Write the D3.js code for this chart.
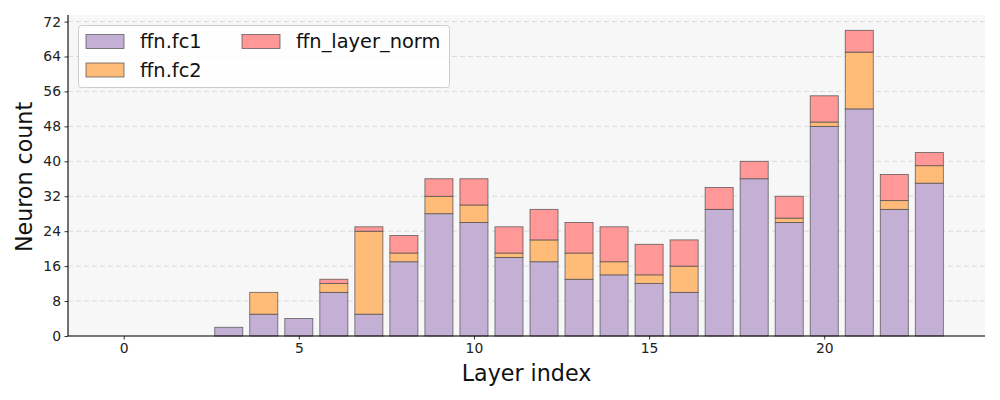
<!DOCTYPE html>
<html>
<head>
<meta charset="utf-8">
<script src="https://cdn.jsdelivr.net/npm/d3@7"></script>
<style>
  html, body { margin: 0; padding: 0; background: #ffffff; }
  svg { display: block; font-family: "DejaVu Sans", sans-serif; }
</style>
</head>
<body>
<svg id="chart" width="1000" height="400"></svg>
<script>
const layers = d3.range(0, 24);
const seriesNames = ["ffn.fc1", "ffn.fc2", "ffn_layer_norm"];
const fc1Values  = [0, 0, 0, 2, 5, 4, 10, 5, 17, 28, 26, 18, 17, 13, 14, 12, 10, 29, 36, 26, 48, 52, 29, 35];
const fc2Values  = [0, 0, 0, 0, 5, 0, 2, 19, 2, 4, 4, 1, 5, 6, 3, 2, 6, 0, 0, 1, 1, 13, 2, 4];
const normValues = [0, 0, 0, 0, 0, 0, 1, 1, 4, 4, 6, 6, 7, 7, 8, 7, 6, 5, 4, 5, 6, 5, 6, 3];
const yTicks = [0, 8, 16, 24, 32, 40, 48, 56, 64, 72];
const xTicks = [0, 5, 10, 15, 20];
const colors = ["#c5b0d5", "#ffbb78", "#ff9896"];

const svg = d3.select("#chart");
const margin = { left: 68, right: 15, top: 15, bottom: 64 };
const W = 1000, H = 400;
const iw = W - margin.left - margin.right;
const ih = H - margin.top - margin.bottom;

const totals = layers.map(i => fc1Values[i] + fc2Values[i] + normValues[i]);
const ymax = d3.max(totals) * 1.05;
const barW = 0.8;
const xmin = -barW / 2, xmaxv = layers.length - 1 + barW / 2;
const pad = (xmaxv - xmin) * 0.05;

const x = d3.scaleLinear().domain([xmin - pad, xmaxv + pad]).range([0, iw]);
const y = d3.scaleLinear().domain([0, ymax]).range([ih, 0]);

const g = svg.append("g").attr("transform", `translate(${margin.left},${margin.top})`);

g.append("rect").attr("width", iw).attr("height", ih).attr("fill", "#f7f7f7");

// grid
g.append("g").selectAll("line").data(yTicks).join("line")
  .attr("x1", 0).attr("x2", iw)
  .attr("y1", d => y(d)).attr("y2", d => y(d))
  .attr("stroke", "#d3d3d3").attr("stroke-width", 0.8)
  .attr("stroke-dasharray", "5,3");

// stacked data
const rows = layers.map(i => ({ layer: i, "ffn.fc1": fc1Values[i], "ffn.fc2": fc2Values[i], "ffn_layer_norm": normValues[i] }));
const stack = d3.stack().keys(seriesNames)(rows);

g.append("g").selectAll("g").data(stack).join("g")
  .attr("fill", (d, i) => colors[i])
  .selectAll("rect").data(d => d.filter(p => p[1] - p[0] > 0)).join("rect")
  .attr("x", d => x(d.data.layer - barW / 2))
  .attr("width", d => x(barW) - x(0))
  .attr("y", d => y(d[1]))
  .attr("height", d => y(d[0]) - y(d[1]))
  .attr("stroke", "#4a4a4a").attr("stroke-opacity", 0.85).attr("stroke-width", 0.8);

// axes
const yAxis = g.append("g").call(d3.axisLeft(y).tickValues(yTicks).tickSize(3.5).tickPadding(3.5));
const xAxis = g.append("g").attr("transform", `translate(0,${ih})`)
  .call(d3.axisBottom(x).tickValues(xTicks).tickSize(3.5).tickPadding(3.5));
[yAxis, xAxis].forEach(a => {
  a.select(".domain").attr("stroke", "#000").attr("stroke-width", 1.1);
  a.selectAll(".tick line").attr("stroke", "#000").attr("stroke-width", 0.8);
  a.selectAll(".tick text").attr("font-size", "13.9px").attr("fill", "#222")
    .attr("font-family", "DejaVu Sans, sans-serif");
});
yAxis.select(".domain").attr("d", `M0,${ih}V0`);
xAxis.select(".domain").attr("d", `M0,0H${iw}`);

// axis labels
svg.append("text").attr("x", margin.left + iw / 2).attr("y", 381)
  .attr("text-anchor", "middle").attr("font-size", "22.2px").attr("fill", "#111")
  .text("Layer index");
svg.append("text").attr("transform", `translate(32,${margin.top + ih / 2 + 1.5}) rotate(-90)`)
  .attr("text-anchor", "middle").attr("font-size", "22.2px").attr("fill", "#111")
  .text("Neuron count");

// legend
const lg = svg.append("g");
lg.append("rect").attr("x", 78.5).attr("y", 25.5).attr("width", 371).attr("height", 62)
  .attr("rx", 3).attr("fill", "#ffffff").attr("fill-opacity", 0.8)
  .attr("stroke", "#cccccc").attr("stroke-width", 1);
const legendPos = [
  { px: 86, ty: 41.5 },
  { px: 86, ty: 70 },
  { px: 242, ty: 41.5 }
];
seriesNames.forEach((name, i) => {
  const p = legendPos[i];
  lg.append("rect").attr("x", p.px).attr("y", p.ty - 7).attr("width", 38).attr("height", 14)
    .attr("fill", colors[i]).attr("stroke", "#4a4a4a").attr("stroke-opacity", 0.85).attr("stroke-width", 0.8);
  lg.append("text").attr("x", p.px + 54).attr("y", p.ty).attr("dy", "0.35em")
    .attr("font-size", "19.4px").attr("fill", "#111").text(name);
});
</script>
</body>
</html>
